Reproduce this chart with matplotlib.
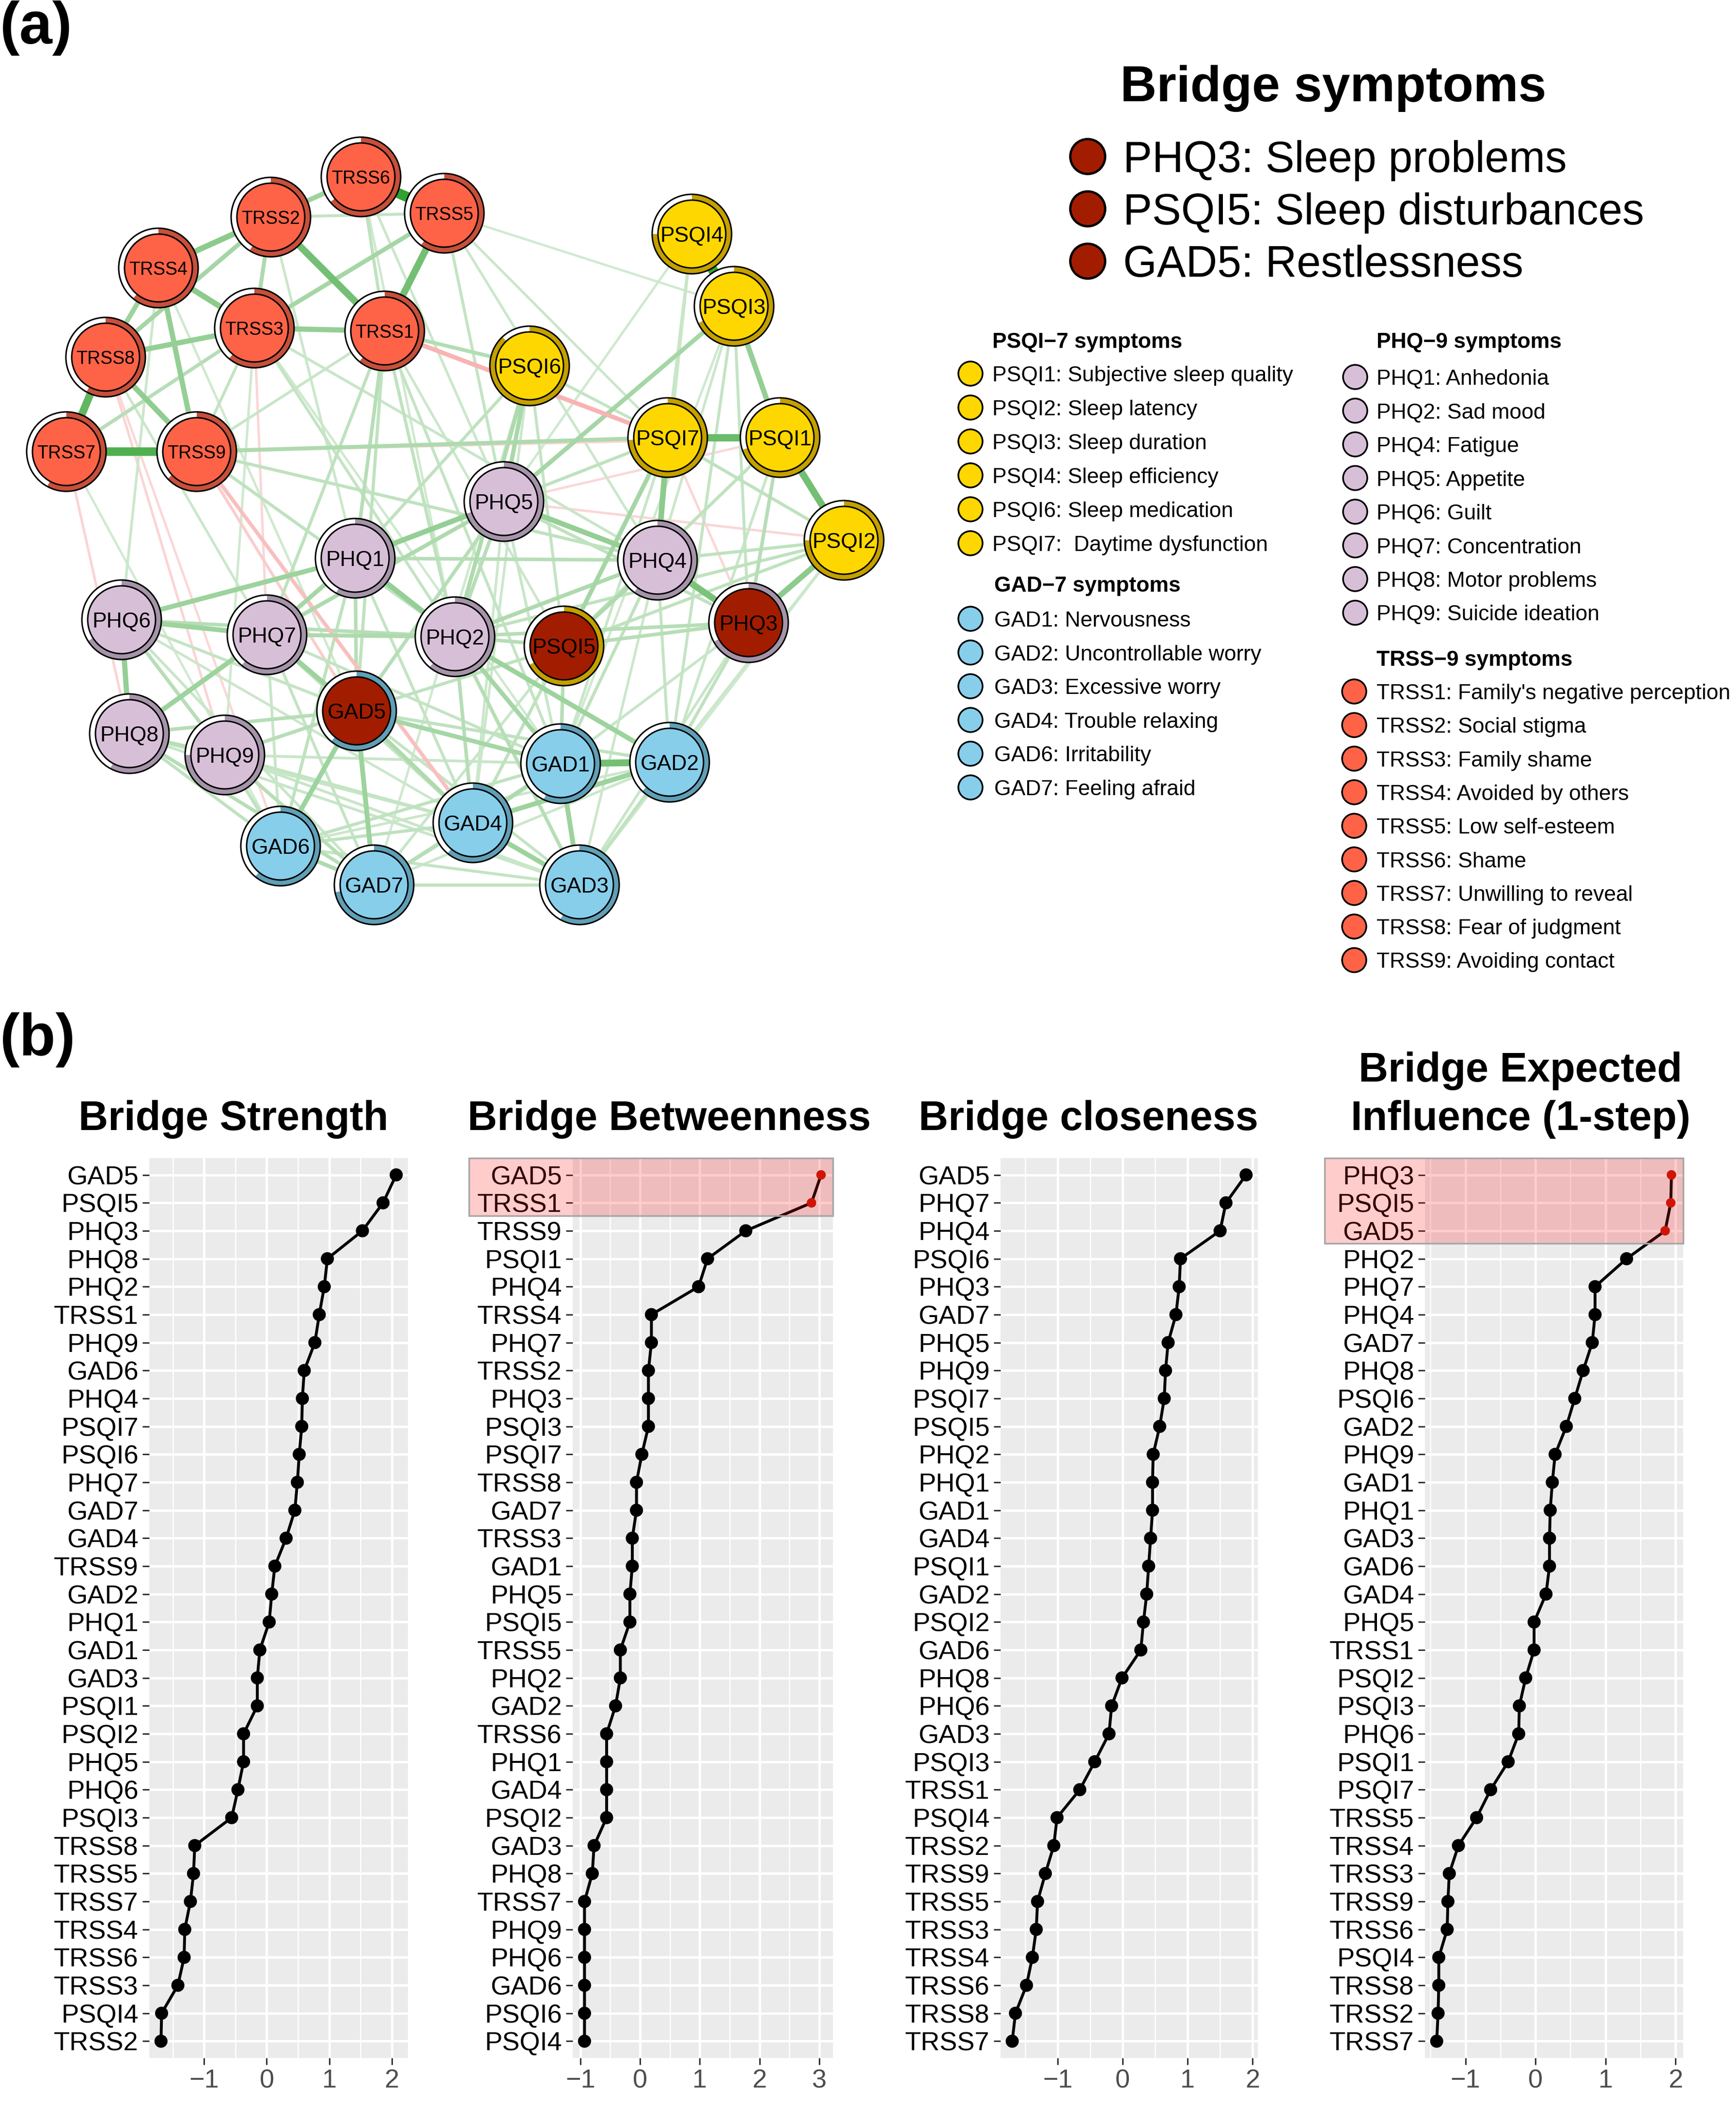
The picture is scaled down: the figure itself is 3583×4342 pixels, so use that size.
import numpy as np
import matplotlib
matplotlib.use("Agg")
import matplotlib.pyplot as plt
from matplotlib.patches import Circle, Wedge, Rectangle
import matplotlib.transforms as mtransforms
from matplotlib.ticker import MultipleLocator

plt.rcParams['font.family'] = ['Liberation Sans', 'DejaVu Sans']

W, H = 3583, 4342

# ---------------- network data ----------------
nodes = ['TRSS1', 'TRSS2', 'TRSS3', 'TRSS4', 'TRSS5', 'TRSS6', 'TRSS7', 'TRSS8', 'TRSS9',
         'PSQI1', 'PSQI2', 'PSQI3', 'PSQI4', 'PSQI5', 'PSQI6', 'PSQI7',
         'PHQ1', 'PHQ2', 'PHQ3', 'PHQ4', 'PHQ5', 'PHQ6', 'PHQ7', 'PHQ8', 'PHQ9',
         'GAD1', 'GAD2', 'GAD3', 'GAD4', 'GAD5', 'GAD6', 'GAD7']
layout_x = [794, 559, 525, 327, 917, 745, 137, 218, 406,
            1610, 1742, 1515, 1428, 1164, 1093, 1378,
            733, 939, 1545, 1357, 1040, 251, 551, 267, 464,
            1157, 1382, 1196, 976, 736, 579, 772]
layout_y = [683, 448, 677, 553, 440, 365, 932, 737, 932,
            903, 1115, 632, 483, 1333, 755, 903,
            1152, 1314, 1285, 1156, 1035, 1279, 1310, 1514, 1558,
            1576, 1573, 1826, 1698, 1467, 1746, 1826]
predictability = [0.61, 0.59, 0.61, 0.61, 0.60, 0.64, 0.58, 0.58, 0.63,
                  0.70, 0.75, 0.68, 0.75, 0.67, 0.88, 0.74,
                  0.58, 0.61, 0.67, 0.60, 0.70, 0.66, 0.61, 0.58, 0.75,
                  0.57, 0.62, 0.58, 0.61, 0.61, 0.61, 0.72]
bridge_nodes = ['PHQ3', 'PSQI5', 'GAD5']

edge_from = ['TRSS6', 'TRSS7', 'TRSS7', 'TRSS2', 'TRSS5', 'TRSS4', 'TRSS4', 'TRSS3', 'TRSS8',
             'TRSS8', 'TRSS4', 'TRSS4', 'TRSS2', 'TRSS2', 'TRSS2', 'TRSS3', 'TRSS7', 'TRSS6',
             'TRSS2', 'TRSS9', 'TRSS9',
             'TRSS9', 'TRSS9', 'TRSS9', 'TRSS1', 'TRSS1', 'TRSS1', 'TRSS1', 'TRSS1', 'TRSS1',
             'TRSS3', 'TRSS3', 'TRSS5', 'TRSS6', 'TRSS5', 'TRSS9', 'TRSS1', 'TRSS9',
             'TRSS8', 'TRSS7', 'TRSS3', 'PSQI1', 'PSQI2',
             'PSQI4', 'PSQI3', 'PSQI7', 'PSQI1', 'PSQI7', 'PSQI2', 'PSQI3', 'PSQI6', 'PSQI6',
             'PSQI6', 'PSQI7', 'PSQI1', 'PSQI1', 'PSQI2', 'PSQI2', 'PSQI2', 'PSQI3', 'PSQI3',
             'PSQI4', 'PSQI4', 'PSQI7', 'PSQI7', 'PSQI6', 'PSQI5', 'PSQI5', 'PSQI5', 'PSQI5',
             'PSQI5', 'PSQI5', 'PSQI6',
             'PHQ4', 'PHQ5', 'PHQ5', 'PHQ1', 'PHQ1', 'PHQ1', 'PHQ6', 'PHQ6', 'PHQ7', 'PHQ7',
             'PHQ7', 'PHQ6', 'PHQ6', 'PHQ8', 'PHQ2', 'PHQ2', 'PHQ5', 'PHQ5', 'PHQ5', 'PHQ5',
             'PHQ1', 'PHQ1', 'PHQ4', 'PHQ4', 'PHQ3', 'PHQ3', 'PHQ9', 'PHQ8', 'PHQ9', 'PHQ8',
             'PHQ8', 'PHQ9', 'PHQ9', 'PHQ8', 'PHQ6', 'PHQ2', 'PHQ2', 'PHQ2', 'PHQ2', 'PHQ7',
             'PHQ7', 'PHQ1', 'PHQ1',
             'GAD1', 'GAD1', 'GAD4', 'GAD4', 'GAD5', 'GAD5', 'GAD5', 'GAD5', 'GAD1', 'GAD6',
             'GAD7', 'GAD7', 'GAD6', 'GAD6', 'GAD7', 'GAD6', 'GAD2', 'GAD5', 'GAD5',
             'TRSS4', 'TRSS8', 'TRSS3', 'TRSS2', 'TRSS6', 'TRSS5', 'TRSS3', 'TRSS8', 'TRSS7',
             'TRSS4', 'TRSS1', 'TRSS5', 'PSQI4', 'PSQI3', 'PSQI3', 'PSQI1', 'PSQI2', 'PSQI2',
             'PSQI6', 'PSQI6', 'PHQ6', 'PHQ6', 'PHQ8', 'PHQ9', 'PHQ9', 'PHQ7', 'PHQ7', 'PHQ4',
             'PHQ4', 'PHQ5', 'PHQ5', 'PHQ3', 'PSQI7', 'PHQ3', 'PSQI1', 'GAD6', 'GAD7']
edge_to = ['TRSS5', 'TRSS9', 'TRSS8', 'TRSS1', 'TRSS1', 'TRSS2', 'TRSS3', 'TRSS1', 'TRSS3',
           'TRSS9', 'TRSS9', 'TRSS8', 'TRSS6', 'TRSS3', 'TRSS8', 'TRSS5', 'TRSS3', 'TRSS1',
           'TRSS5', 'TRSS3', 'TRSS1',
           'PSQI7', 'PHQ4', 'PHQ2', 'PSQI6', 'PHQ1', 'GAD5', 'PHQ2', 'PHQ7', 'GAD1',
           'PHQ2', 'PHQ4', 'PHQ5', 'PHQ5', 'PSQI7', 'GAD4', 'PSQI7', 'GAD5',
           'PHQ9', 'PHQ8', 'PHQ7', 'TRSS9', 'PHQ5',
           'PSQI3', 'PSQI1', 'PSQI1', 'PSQI2', 'PHQ4', 'PHQ3', 'PHQ5', 'PHQ5', 'PHQ2',
           'PHQ1', 'PSQI5', 'PSQI5', 'PHQ3', 'PHQ4', 'PSQI5', 'PHQ2', 'GAD2', 'PHQ3',
           'PHQ4', 'PSQI7', 'PHQ5', 'PSQI2', 'PSQI7', 'PHQ3', 'GAD1', 'GAD4', 'GAD5',
           'PHQ2', 'GAD7', 'PSQI5',
           'PHQ3', 'PHQ1', 'PHQ4', 'PHQ2', 'PHQ6', 'PHQ7', 'PHQ7', 'PHQ8', 'PHQ2', 'PHQ8',
           'GAD5', 'PHQ2', 'PHQ9', 'PHQ9', 'PHQ4', 'PHQ3', 'PHQ7', 'PHQ2', 'GAD5', 'PHQ3',
           'PHQ4', 'GAD5', 'PSQI5', 'GAD1', 'GAD2', 'GAD3', 'GAD5', 'GAD5', 'GAD6', 'GAD6',
           'GAD7', 'GAD7', 'GAD4', 'GAD3', 'GAD5', 'GAD2', 'GAD1', 'GAD4', 'GAD3', 'GAD4',
           'GAD1', 'GAD6', 'GAD4',
           'GAD2', 'GAD3', 'GAD2', 'GAD3', 'GAD7', 'GAD6', 'GAD1', 'GAD4', 'GAD4', 'GAD7',
           'GAD4', 'GAD3', 'GAD4', 'GAD1', 'GAD1', 'GAD3', 'GAD3', 'GAD3', 'GAD2',
           'PHQ6', 'PHQ7', 'PHQ9', 'PHQ1', 'PHQ2', 'PHQ4', 'GAD1', 'GAD6', 'GAD6',
           'GAD5', 'PSQI5', 'PSQI3', 'PHQ5', 'PHQ4', 'GAD1', 'GAD2', 'GAD2', 'GAD3',
           'GAD4', 'GAD7', 'GAD7', 'GAD4', 'GAD4', 'GAD3', 'GAD1', 'GAD6', 'GAD7', 'GAD2',
           'GAD3', 'GAD1', 'GAD4', 'GAD1', 'GAD1', 'PSQI7', 'PHQ5', 'GAD2', 'GAD2']
edge_w = [1.00, 0.80, 0.70, 0.60, 0.60, 0.45, 0.45, 0.40, 0.40,
          0.42, 0.40, 0.35, 0.35, 0.25, 0.30, 0.30, 0.20, 0.15,
          0.12, 0.12, 0.10,
          0.25, 0.15, 0.15, 0.22, 0.20, 0.15, 0.15, 0.15, 0.12,
          0.12, 0.10, 0.12, 0.08, 0.08, -0.22, -0.30, -0.12,
          -0.07, -0.07, -0.06, -0.08, -0.06,
          0.95, 0.40, 0.65, 0.60, 0.45, 0.45, 0.30, 0.28, 0.25,
          0.15, 0.30, 0.15, 0.20, 0.15, 0.15, 0.15, 0.12, 0.12,
          0.08, 0.10, 0.15, 0.15, 0.12, 0.20, 0.20, 0.15, 0.15,
          0.20, 0.10, 0.12,
          0.55, 0.40, 0.40, 0.40, 0.35, 0.30, 0.35, 0.40, 0.25, 0.35,
          0.35, 0.20, 0.20, 0.20, 0.25, 0.20, 0.25, 0.20, 0.20, 0.15,
          0.20, 0.20, 0.25, 0.15, 0.15, 0.10, 0.20, 0.20, 0.15, 0.15,
          0.20, 0.20, 0.12, 0.10, 0.12, 0.35, 0.30, 0.20, 0.20, 0.12,
          0.12, 0.15, 0.12,
          0.60, 0.35, 0.35, 0.35, 0.35, 0.35, 0.30, 0.25, 0.25, 0.25,
          0.20, 0.15, 0.15, 0.15, 0.12, 0.12, 0.15, 0.12, 0.15,
          0.08, 0.08, 0.06, 0.08, 0.06, 0.08, 0.06, -0.05, 0.05,
          0.06, 0.08, 0.05, 0.06, 0.08, 0.06, 0.10, 0.08, 0.06,
          0.08, 0.06, 0.10, 0.08, 0.10, 0.10, 0.10, 0.10, 0.12, 0.12,
          0.08, 0.10, 0.08, 0.10, 0.10, -0.06, -0.05, 0.08, 0.08]

group_fill = {'TRSS': '#FF6347', 'PSQI': '#FFD700', 'PHQ': '#D8BFD8', 'GAD': '#87CEEB'}
group_ring = {'TRSS': '#C6503B', 'PSQI': '#C4A000', 'PHQ': '#A594A9', 'GAD': '#609FB6'}
bridge_fill = '#A21D00'

# ---------------- legend data ----------------
bridge_items = ['PHQ3: Sleep problems', 'PSQI5: Sleep disturbances', 'GAD5: Restlessness']
psqi_items = ['PSQI1: Subjective sleep quality', 'PSQI2: Sleep latency', 'PSQI3: Sleep duration',
              'PSQI4: Sleep efficiency', 'PSQI6: Sleep medication', 'PSQI7:  Daytime dysfunction']
gad_items = ['GAD1: Nervousness', 'GAD2: Uncontrollable worry', 'GAD3: Excessive worry',
             'GAD4: Trouble relaxing', 'GAD6: Irritability', 'GAD7: Feeling afraid']
phq_items = ['PHQ1: Anhedonia', 'PHQ2: Sad mood', 'PHQ4: Fatigue', 'PHQ5: Appetite', 'PHQ6: Guilt',
             'PHQ7: Concentration', 'PHQ8: Motor problems', 'PHQ9: Suicide ideation']
trss_items = ["TRSS1: Family's negative perception", 'TRSS2: Social stigma', 'TRSS3: Family shame',
              'TRSS4: Avoided by others', 'TRSS5: Low self-esteem', 'TRSS6: Shame',
              'TRSS7: Unwilling to reveal', 'TRSS8: Fear of judgment', 'TRSS9: Avoiding contact']

# ---------------- centrality data ----------------
strength_labels = ['GAD5', 'PSQI5', 'PHQ3', 'PHQ8', 'PHQ2', 'TRSS1', 'PHQ9', 'GAD6', 'PHQ4', 'PSQI7',
                   'PSQI6', 'PHQ7', 'GAD7', 'GAD4', 'TRSS9', 'GAD2', 'PHQ1', 'GAD1', 'GAD3', 'PSQI1',
                   'PSQI2', 'PHQ5', 'PHQ6', 'PSQI3', 'TRSS8', 'TRSS5', 'TRSS7', 'TRSS4', 'TRSS6',
                   'TRSS3', 'PSQI4', 'TRSS2']
strength_vals = [2.07, 1.86, 1.53, 0.97, 0.92, 0.84, 0.77, 0.60, 0.57, 0.56,
                 0.52, 0.49, 0.45, 0.31, 0.13, 0.08, 0.04, -0.11, -0.15, -0.15,
                 -0.37, -0.37, -0.46, -0.56, -1.15, -1.17, -1.22, -1.31, -1.32,
                 -1.42, -1.68, -1.69]

betweenness_labels = ['GAD5', 'TRSS1', 'TRSS9', 'PSQI1', 'PHQ4', 'TRSS4', 'PHQ7', 'TRSS2', 'PHQ3',
                      'PSQI3', 'PSQI7', 'TRSS8', 'GAD7', 'TRSS3', 'GAD1', 'PHQ5', 'PSQI5', 'TRSS5',
                      'PHQ2', 'GAD2', 'TRSS6', 'PHQ1', 'GAD4', 'PSQI2', 'GAD3', 'PHQ8', 'TRSS7',
                      'PHQ9', 'PHQ6', 'GAD6', 'PSQI6', 'PSQI4']
betweenness_vals = [3.03, 2.87, 1.77, 1.13, 0.98, 0.19, 0.19, 0.14, 0.14,
                    0.14, 0.03, -0.06, -0.06, -0.13, -0.13, -0.17, -0.17, -0.33,
                    -0.33, -0.41, -0.56, -0.56, -0.56, -0.56, -0.77, -0.80, -0.93,
                    -0.93, -0.93, -0.93, -0.93, -0.93]

closeness_labels = ['GAD5', 'PHQ7', 'PHQ4', 'PSQI6', 'PHQ3', 'GAD7', 'PHQ5', 'PHQ9', 'PSQI7',
                    'PSQI5', 'PHQ2', 'PHQ1', 'GAD1', 'GAD4', 'PSQI1', 'GAD2', 'PSQI2', 'GAD6',
                    'PHQ8', 'PHQ6', 'GAD3', 'PSQI3', 'TRSS1', 'PSQI4', 'TRSS2', 'TRSS9', 'TRSS5',
                    'TRSS3', 'TRSS4', 'TRSS6', 'TRSS8', 'TRSS7']
closeness_vals = [1.90, 1.59, 1.50, 0.89, 0.87, 0.82, 0.70, 0.66, 0.64,
                  0.57, 0.47, 0.46, 0.46, 0.43, 0.40, 0.37, 0.32, 0.28,
                  -0.01, -0.17, -0.21, -0.43, -0.66, -1.01, -1.06, -1.19, -1.31,
                  -1.33, -1.39, -1.48, -1.65, -1.70]

ei_labels = ['PHQ3', 'PSQI5', 'GAD5', 'PHQ2', 'PHQ7', 'PHQ4', 'GAD7', 'PHQ8', 'PSQI6', 'GAD2',
             'PHQ9', 'GAD1', 'PHQ1', 'GAD3', 'GAD6', 'GAD4', 'PHQ5', 'TRSS1', 'PSQI2', 'PSQI3',
             'PHQ6', 'PSQI1', 'PSQI7', 'TRSS5', 'TRSS4', 'TRSS3', 'TRSS9', 'TRSS6', 'PSQI4',
             'TRSS8', 'TRSS2', 'TRSS7']
ei_vals = [1.94, 1.93, 1.85, 1.30, 0.85, 0.85, 0.81, 0.68, 0.56, 0.44,
           0.28, 0.24, 0.21, 0.20, 0.20, 0.15, -0.02, -0.02, -0.14, -0.23,
           -0.24, -0.39, -0.64, -0.84, -1.10, -1.23, -1.25, -1.26, -1.38,
           -1.38, -1.39, -1.41]

panel_titles = [['Bridge Strength'], ['Bridge Betweenness'], ['Bridge closeness'],
                ['Bridge Expected', 'Influence (1-step)']]
panel_labels = [strength_labels, betweenness_labels, closeness_labels, ei_labels]
panel_vals = [strength_vals, betweenness_vals, closeness_vals, ei_vals]
panel_highlight = [0, 2, 0, 3]

fig = plt.figure(figsize=(W / 100, H / 100), dpi=100)


def grp(name):
    for g in ('TRSS', 'PSQI', 'PHQ', 'GAD'):
        if name.startswith(g):
            return g


# ---------------- (a) network ----------------
ax_net = fig.add_axes([0, 1 - 1950 / H, 1900 / W, 1750 / H])
ax_net.set_xlim(0, 1900)
ax_net.set_ylim(1950, 200)
ax_net.set_aspect('equal')
ax_net.axis('off')

idx = {n: i for i, n in enumerate(nodes)}
order = np.argsort(np.abs(edge_w))
for k in order:
    a, b, w = edge_from[k], edge_to[k], edge_w[k]
    t = abs(w)
    base = np.array([0.12, 0.60, 0.12]) if w > 0 else np.array([0.93, 0.25, 0.25])
    al = min(0.92, 0.17 + 0.76 * t)
    col = base * al + (1 - al)
    ax_net.plot([layout_x[idx[a]], layout_x[idx[b]]], [layout_y[idx[a]], layout_y[idx[b]]],
                color=col, lw=(4 + 17 * t) * 0.72, solid_capstyle='butt', zorder=1)

R, r_in = 82, 70
for i, n in enumerate(nodes):
    x, y = layout_x[i], layout_y[i]
    g = grp(n)
    fill = bridge_fill if n in bridge_nodes else group_fill[g]
    ax_net.add_patch(Circle((x, y), R, fc='white', ec='none', zorder=3))
    ax_net.add_patch(Wedge((x, y), R, -90, -90 + 360 * predictability[i], width=R - r_in,
                           fc=group_ring[g], ec='none', zorder=4))
    ax_net.add_patch(Circle((x, y), R, fc='none', ec='black', lw=2.2, zorder=5))
    ax_net.add_patch(Circle((x, y), r_in, fc=fill, ec='black', lw=2.2, zorder=5))
    fs = 27 if g == 'TRSS' else 32
    ax_net.text(x, y, n, ha='center', va='center_baseline', fontsize=fs, color='black', zorder=6)

# ---------------- overlay for labels and legend ----------------
ax_o = fig.add_axes([0, 0, 1, 1], zorder=10)
ax_o.set_xlim(0, W)
ax_o.set_ylim(H, 0)
ax_o.axis('off')

ax_o.text(0, 58, '(a)', fontsize=88, fontweight='bold', ha='left', va='center')
ax_o.text(0, 2146, '(b)', fontsize=88, fontweight='bold', ha='left', va='center')

ax_o.text(2752, 171 + 38, 'Bridge symptoms', fontsize=75, fontweight='bold', ha='center',
          va='baseline')
for i, s in enumerate(bridge_items):
    yy = 323 + i * 108
    ax_o.add_patch(Circle((2245, yy), 36, fc=bridge_fill, ec='black', lw=3.5))
    ax_o.text(2318, yy + 32, s, fontsize=64.5, ha='left', va='baseline')


def legend_block(x_circ, x_text, y_head, y_first, step, header, items, color):
    ax_o.text(x_text, y_head + 16, header, fontsize=32, fontweight='bold', ha='left', va='baseline')
    for j, s in enumerate(items):
        yy = y_first + j * step
        ax_o.add_patch(Circle((x_circ, yy), 25, fc=color, ec='black', lw=2.5))
        ax_o.text(x_text, yy + 16, s, fontsize=32, ha='left', va='baseline')


legend_block(2003, 2048, 702, 771, 70.0, 'PSQI\u22127 symptoms', psqi_items, group_fill['PSQI'])
legend_block(2003, 2052, 1205, 1277, 69.6, 'GAD\u22127 symptoms', gad_items, group_fill['GAD'])
legend_block(2797, 2841, 702, 778, 69.5, 'PHQ\u22129 symptoms', phq_items, group_fill['PHQ'])
legend_block(2795, 2841, 1358, 1427, 69.3, 'TRSS\u22129 symptoms', trss_items, group_fill['TRSS'])

# ---------------- (b) centrality panels ----------------
panel_left = [308, 1182, 2065, 2941]
panel_right = [842, 1719, 2596, 3474]
panel_top, panel_bottom = 2390, 4247
title_cx = [482, 1381, 2246, 3138]
box_left = [None, -0.398, None, -0.388]

for p in range(4):
    labels, vals = panel_labels[p], panel_vals[p]
    n = len(labels)
    ax = fig.add_axes([panel_left[p] / W, 1 - panel_bottom / H,
                       (panel_right[p] - panel_left[p]) / W, (panel_bottom - panel_top) / H])
    ax.set_facecolor('#EBEBEB')
    for sp in ax.spines.values():
        sp.set_visible(False)
    ypos = np.arange(n)
    lo, hi = min(vals), max(vals)
    pad = 0.05 * (hi - lo)
    ax.set_xlim(lo - pad, hi + pad)
    ax.set_ylim(n - 1 + 0.6, -0.6)
    ax.set_yticks(ypos)
    ax.set_yticklabels(labels)
    ax.xaxis.set_major_locator(MultipleLocator(1))
    ax.xaxis.set_minor_locator(MultipleLocator(0.5))
    ax.set_axisbelow(True)
    ax.grid(which='major', color='white', lw=3.6)
    ax.grid(which='minor', axis='x', color='white', lw=1.8)
    ax.tick_params(axis='both', which='major', length=10, width=2.2, color='#333333', pad=6)
    ax.tick_params(axis='x', which='minor', length=0)
    ax.tick_params(axis='y', labelsize=39, labelcolor='black')
    ax.tick_params(axis='x', labelsize=39, labelcolor='#4D4D4D')

    nh = panel_highlight[p]
    ax.plot(vals, ypos, color='black', lw=4.3, zorder=3)
    cols = ['#C51B0B' if i < nh else 'black' for i in range(n)]
    sizes = [200 if i < nh else 380 for i in range(n)]
    ax.scatter(vals, ypos, s=sizes, c=cols, zorder=4, linewidths=0)

    if nh:
        trans = mtransforms.blended_transform_factory(ax.transAxes, ax.transData)
        ax.add_patch(Rectangle((box_left[p], -0.6), 1 - box_left[p], nh - 1 + 1.06,
                               transform=trans, clip_on=False, fc=(1, 0, 0, 0.2),
                               ec='#A6A6A6', lw=2.5, zorder=6))

    lines = panel_titles[p]
    for j, s in enumerate(lines):
        yb = 2332 - (len(lines) - 1 - j) * 100
        ax_o.text(title_cx[p], yb, s, fontsize=61, fontweight='bold', ha='center', va='baseline')

fig.savefig('out.png', dpi=100)
